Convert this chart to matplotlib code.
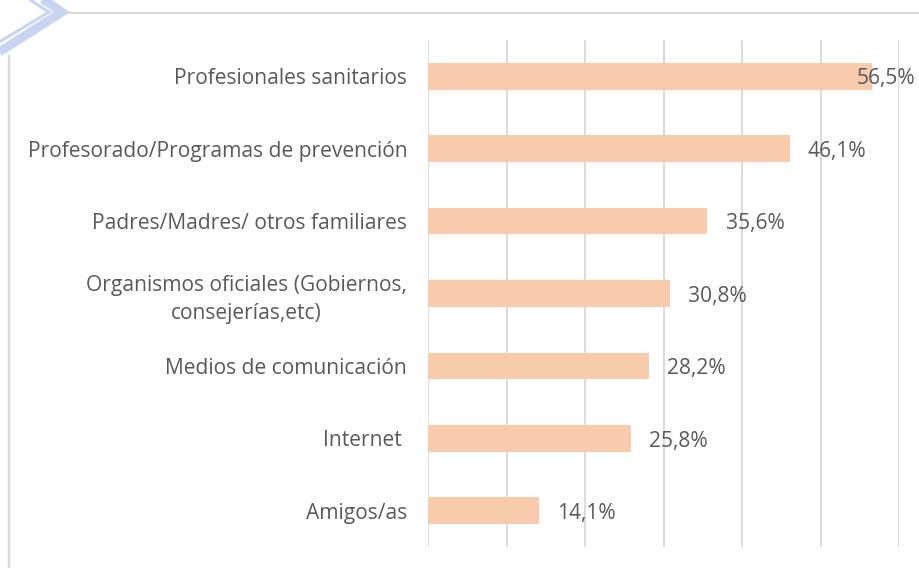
import matplotlib
matplotlib.use("Agg")
import matplotlib.pyplot as plt
from matplotlib.lines import Line2D

categories = [
    "Profesionales sanitarios",
    "Profesorado/Programas de prevención",
    "Padres/Madres/ otros familiares",
    "Organismos oficiales (Gobiernos,\nconsejerías,etc)",
    "Medios de comunicación",
    "Internet ",
    "Amigos/as",
]
values = [56.5, 46.1, 35.6, 30.8, 28.2, 25.8, 14.1]
value_labels = ["56,5%", "46,1%", "35,6%", "30,8%", "28,2%", "25,8%", "14,1%"]
xticks = [0, 10, 20, 30, 40, 50, 60]

W, H = 919, 568
plt.rcParams['font.family'] = ['Open Sans', 'DejaVu Sans']
fig = plt.figure(figsize=(W / 100, H / 100), dpi=100)
ax = fig.add_axes([428 / W, 1 - 547 / H, (899 - 428) / W, (547 - 40) / H])

text_color = "#595959"
grid_color = "#D9D9D9"
bar_color = "#F8CBAD"
fs = 15.1

ypos = list(range(len(categories)))
ax.barh(ypos, values, height=0.37, color=bar_color, zorder=2)
ax.set_xlim(xticks[0], xticks[-1])
ax.set_ylim(len(categories) - 0.5, -0.5)
ax.set_xticks(xticks)
ax.xaxis.grid(True, color=grid_color, linewidth=1.3, zorder=0)
ax.tick_params(axis='x', length=0, labelbottom=False)
ax.tick_params(axis='y', length=0, pad=15)
ax.set_yticks(ypos)
ax.set_yticklabels(categories, fontsize=fs, color=text_color,
                   multialignment='center', linespacing=1.45)
for s in ax.spines.values():
    s.set_visible(False)

for i, (v, lab) in enumerate(zip(values, value_labels)):
    off = -10.5 if v > 0.9 * xticks[-1] else 13
    ax.annotate(lab, xy=(v, i), xytext=(off, -2), textcoords='offset points',
                ha='left', va='center', fontsize=fs, color=text_color, zorder=3,
                annotation_clip=False)

# decorative frame lines
def px_line(xs, ys, color, lw_px):
    fig.add_artist(Line2D([x / W for x in xs], [1 - y / H for y in ys],
                          transform=fig.transFigure, color=color,
                          linewidth=lw_px * 0.72, solid_joinstyle='miter',
                          solid_capstyle='butt'))

px_line([68, W], [12.7, 12.7], grid_color, 2)
px_line([9, 9], [55, H], grid_color, 2.5)
chev = "#C9D4F3"
px_line([38, 62, -4], [-4, 12, 54], chev, 9)
px_line([24, 49, -4], [-4, 12, 44], chev, 3)

fig.savefig("out.png", dpi=100)
